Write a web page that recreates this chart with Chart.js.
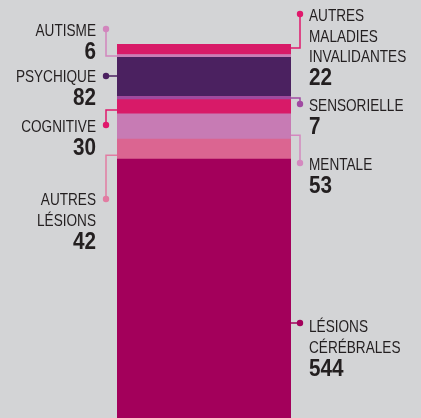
<!DOCTYPE html>
<html><head><meta charset="utf-8">
<script src="https://cdn.jsdelivr.net/npm/chart.js@4/dist/chart.umd.min.js"></script>
<style>
html,body{margin:0;padding:0;background:#D3D4D6;}
canvas{display:block;}
</style></head>
<body>
<canvas id="c" width="421" height="418"></canvas>
<script>
// ---- data (stack order: bottom -> top) ----
const categories = ['Lésions cérébrales','Autres lésions','Mentale','Cognitive','Sensorielle','Psychique','Autisme','Autres maladies invalidantes'];
const values = [544, 42, 53, 30, 7, 82, 6, 22];
const labelLines = [
  ['LÉSIONS','CÉRÉBRALES'],
  ['AUTRES','LÉSIONS'],
  ['MENTALE'],
  ['COGNITIVE'],
  ['SENSORIELLE'],
  ['PSYCHIQUE'],
  ['AUTISME'],
  ['AUTRES','MALADIES','INVALIDANTES']
];
// ---- styles ----
const barColors = ['#A3005B','#DB6591','#C77BB4','#D81A68','#A04A9E','#4B2160','#C87DB6','#D81A68'];
const lineColors = ['#A3005B','#E27CA2','#D488BF','#E0186C','#A04AA2','#4B2160','#D285BD','#E0186C'];
// layout of annotation blocks: side, dot y, first baseline
const blocks = [
  {side:'right', dotY:323, base:332},
  {side:'left',  dotY:199, base:205},
  {side:'right', dotY:163, base:170},
  {side:'left',  dotY:125, base:132},
  {side:'right', dotY:104, base:111},
  {side:'left',  dotY:76,  base:82},
  {side:'left',  dotY:29,  base:36},
  {side:'right', dotY:14,  base:21}
];
const total = values.reduce((a,b)=>a+b,0);

function condensedText(ctx, txt, x, y, sx, alignRight){
  ctx.save();
  ctx.translate(x, y);
  ctx.scale(sx, 1);
  ctx.textAlign = alignRight ? 'right' : 'left';
  ctx.fillText(txt, 0, 0);
  ctx.restore();
}

const annot = {
  id:'annot',
  afterDatasetsDraw(chart){
    const ctx = chart.ctx;
    const y = chart.scales.y;
    const area = chart.chartArea;
    let cum = 0;
    values.forEach((v,i)=>{
      const segBottom = y.getPixelForValue(cum);
      const segTop = y.getPixelForValue(cum+v);
      cum += v;
      const b = blocks[i];
      const inset = Math.min(4,(segBottom-segTop)/2);
      let ty = Math.max(segTop+inset, Math.min(segBottom-inset, b.dotY));
      const left = b.side==='left';
      const dotX = left ? 106 : 300;
      const barX = left ? area.left : area.right;
      ctx.save();
      ctx.strokeStyle = lineColors[i];
      ctx.lineWidth = 1.5;
      ctx.beginPath();
      ctx.moveTo(dotX, b.dotY);
      ctx.lineTo(dotX, ty);
      ctx.lineTo(barX, ty);
      ctx.stroke();
      ctx.fillStyle = lineColors[i];
      ctx.beginPath();
      ctx.arc(dotX, b.dotY, 3.2, 0, Math.PI*2);
      ctx.fill();
      // text
      ctx.fillStyle = '#231F20';
      ctx.textBaseline = 'alphabetic';
      const tx = left ? 96 : 309;
      ctx.font = '17px "Liberation Sans", Arial, sans-serif';
      let bl = b.base;
      labelLines[i].forEach((ln,k)=>{
        condensedText(ctx, ln, tx, bl, 0.8, left);
        if(k < labelLines[i].length-1) bl += 20.5;
      });
      ctx.font = 'bold 23px "Liberation Sans", Arial, sans-serif';
      condensedText(ctx, String(v), tx, bl+23, 0.9, left);
      ctx.restore();
    });
  }
};

new Chart(document.getElementById('c'), {
  type:'bar',
  data:{
    labels:[''],
    datasets: categories.map((c,i)=>({
      label:c,
      data:[values[i]],
      backgroundColor:barColors[i],
      borderWidth:0,
      barPercentage:1,
      categoryPercentage:1
    }))
  },
  options:{
    responsive:false,
    animation:false,
    devicePixelRatio:1,
    layout:{padding:{left:117, right:130, top:44, bottom:0}},
    plugins:{legend:{display:false}, tooltip:{enabled:false}},
    scales:{
      x:{stacked:true, display:false},
      y:{stacked:true, display:false, min:0, max:total}
    }
  },
  plugins:[annot]
});
</script>
</body></html>
